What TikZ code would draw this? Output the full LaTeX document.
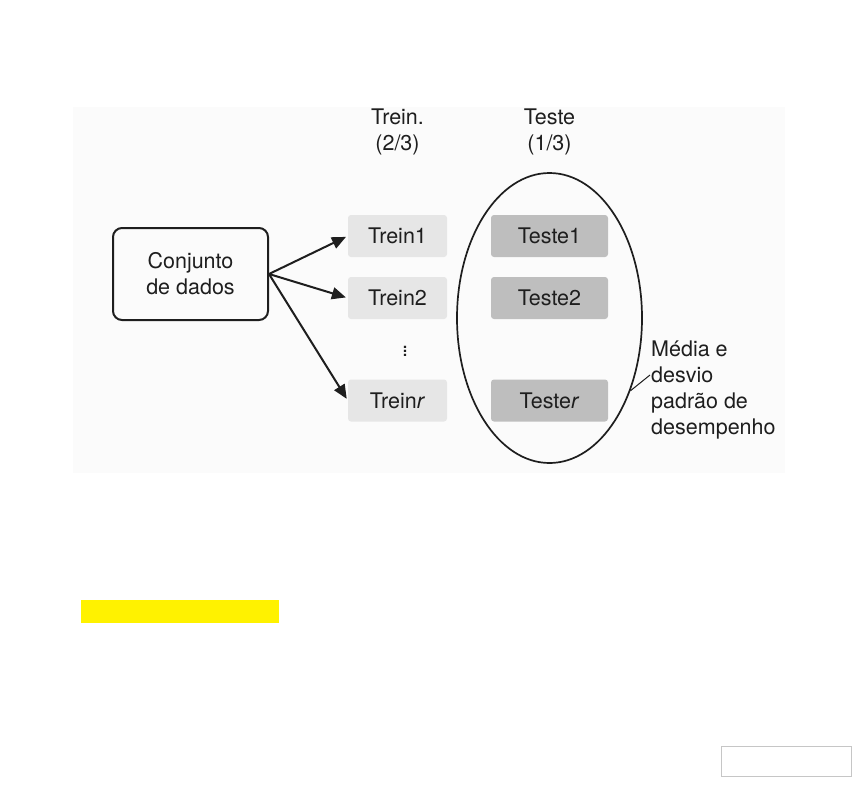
\documentclass[tikz,border=0pt]{standalone}
\usepackage{fontspec}
\setmainfont{TeX Gyre Heros}
\usetikzlibrary{positioning, shapes.geometric, arrows.meta}
\definecolor{panelc}{HTML}{FBFBFB}
\definecolor{treinc}{HTML}{E6E6E6}
\definecolor{testec}{HTML}{BEBEBE}
\definecolor{inkc}{HTML}{1E1E1E}

\begin{document}
\begin{tikzpicture}[x=1pt, y=-1pt,
    every node/.style={font=\fontsize{21.5}{26}\selectfont, text=inkc},
    arr/.style={-{Triangle[length=14pt, width=12pt]}, line width=2pt, draw=inkc, shorten >=2pt},
    trbox/.style={rectangle, rounded corners=3pt, fill=treinc, minimum width=99pt, minimum height=42pt},
    tsbox/.style={rectangle, rounded corners=3pt, fill=testec, minimum width=117pt, minimum height=42pt},
    lbl/.style={align=center},
  ]
    \useasboundingbox (0,0) rectangle (856,806);

    % Light panel behind the diagram
    \fill[panelc] (73,107) rectangle (785,473);

    % Data set
    \node[rectangle, draw=inkc, line width=2pt, rounded corners=9pt, minimum width=155pt, minimum height=92pt, lbl] (data) at (190.5,274) {Conjunto\\de dados};

    % Training splits
    \node[trbox] (t1) at (397.5,236) {Trein1};
    \node[trbox] (t2) at (397.5,298) {Trein2};
    \node[trbox] (tr) at (397.5,400.5) {Trein\textit{r}};
    \node (dots) at (405,348) {$\vdots$};

    % Test splits
    \node[tsbox] (s1) at (549.5,236) {Teste1};
    \node[tsbox] (s2) at (549.5,298) {Teste2};
    \node[tsbox] (sr) at (549.5,400.5) {Teste\textit{r}};

    % Ellipse around the tests
    \node[ellipse, draw=inkc, line width=1.7pt, inner sep=0pt, minimum width=185pt, minimum height=290pt] (ell) at (549.5,318) {};

    % Column headers
    \node[lbl, above=56pt of t1] (trhead) {Trein.\\(2/3)};
    \node[lbl, above=56pt of s1] (tshead) {Teste\\(1/3)};

    % Arrows
    \draw[arr] (data.east) -- (t1.west);
    \draw[arr] (data.east) -- (t2.west);
    \draw[arr] (data.east) -- (tr.west);

    % Result label
    \node[align=left, anchor=north west, inner sep=0pt] (res) at (651,341) {Média e\\desvio\\padrão de\\desempenho};
    \coordinate (lead) at (650,375);
    \draw[inkc, line width=1pt] (ell.-42) -- (lead);

    % Yellow bar and empty frame
    \fill[yellow] (81,600) rectangle (279,623);
    \draw[gray!45, line width=1pt] (721,746) rectangle (851,776);
  \end{tikzpicture}
\end{document}
